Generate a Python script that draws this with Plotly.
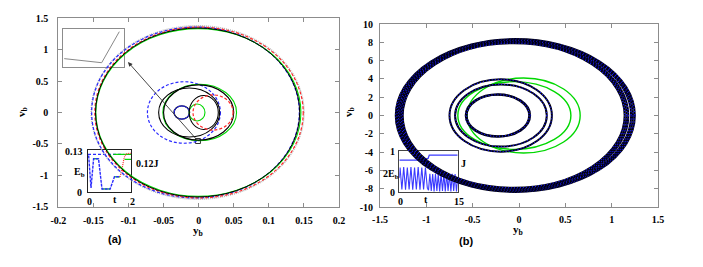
import plotly.graph_objects as go

W, H = 703, 267

# ---------------- DATA ----------------
# tick values / labels
a_xticks = [-0.2, -0.15, -0.1, -0.05, 0, 0.05, 0.1, 0.15, 0.2]
a_xlabels = ['-0.2', '-0.15', '-0.1', '-0.05', '0', '0.05', '0.1', '0.15', '0.2']
a_yticks = [-1.5, -1, -0.5, 0, 0.5, 1, 1.5]
a_ylabels = ['-1.5', '-1', '-0.5', '0', '0.5', '1', '1.5']
b_xticks = [-1.5, -1, -0.5, 0, 0.5, 1, 1.5]
b_xlabels = ['-1.5', '-1', '-0.5', '0', '0.5', '1', '1.5']
b_yticks = [-10, -8, -6, -4, -2, 0, 2, 4, 6, 8, 10]
b_ylabels = ['-10', '-8', '-6', '-4', '-2', '0', '2', '4', '6', '8', '10']

# Panel (a): large orbits  (left edge, right edge, half height in v_b)
a_big_left = [-0.153, -0.1525, -0.148, -0.1465, -0.147]
a_big_right = [0.150, 0.1435, 0.149, 0.1457, 0.144]
a_big_half = [1.38, 1.36, 1.36, 1.335, 1.345]
# Panel (a): inner orbits
a_in_left = [-0.073, -0.051, -0.057, -0.050, -0.035, -0.035, -0.0135, -0.0135, -0.008]
a_in_right = [0.031, 0.054, 0.030, 0.050, -0.013, -0.013, 0.009, 0.028, 0.049]
a_in_half = [0.49, 0.45, 0.39, 0.44, 0.105, 0.105, 0.135, 0.27, 0.28]
# marked point and arrow target (a)
a_mark_y = [-0.001]
a_mark_v = [-0.454]
a_arrow_head = [-0.1007, 0.804]
# zoom inset (a) polyline (normalised box coordinates)
zoom_x = [0.02, 0.634, 0.923]
zoom_y = [0.22, 0.113, 0.93]
# energy inset (a): t and E_b
ea_top_t = [0.0, 1.65]
ea_top_e = [0.1165, 0.1165]
ea_blue_t = [0.03, 0.14, 0.26, 0.49, 0.65, 1.03, 1.23, 1.49]
ea_blue_e = [0.113, 0.0125, 0.103, 0.103, 0.0094, 0.0094, 0.047, 0.047]
ea_green_t = [[0.26, 0.49], [0.65, 1.03], [1.23, 1.49], [1.18, 2.0], [1.7, 2.0]]
ea_green_e = [[0.103, 0.103], [0.0094, 0.0094], [0.047, 0.047], [0.1165, 0.1165], [0.101, 0.101]]
ea_red_t = [1.49, 1.58, 1.68, 1.77, 2.0]
ea_red_e = [0.047, 0.07, 0.106, 0.118, 0.12]

# Panel (b): outer band of orbits
b_big_left = [-1.33, -1.315, -1.30, -1.285, -1.27, -1.255]
b_big_right = [1.25, 1.23, 1.21, 1.18, 1.16, 1.14]
b_big_half = [8.35, 8.28, 8.2, 8.1, 8.0, 7.9]
# Panel (b): inner dark orbits
b_in_left = [-0.575, -0.565, -0.69, -0.75]
b_in_right = [0.12, 0.11, 0.30, 0.355]
b_in_half = [2.33, 2.27, 3.4, 3.95]
# Panel (b): green orbits
b_gr_left = [-0.66, -0.56]
b_gr_right = [0.56, 0.66]
b_gr_half = [3.7, 4.1]
# energy inset (b)
j_t = [0.0, 5.7, 7.4, 7.7, 15.0]
j_v = [0.78, 0.78, 0.82, 0.9, 0.9]
e_t = [0.0, 0.2, 0.66, 1.13, 1.6, 2.06, 2.52, 2.99, 3.45, 3.92, 4.38, 4.85, 5.31, 5.78,
       6.24, 6.71, 7.2, 7.5, 7.85, 8.21, 8.57, 8.93, 9.29, 9.65, 10.01, 10.37, 10.73,
       11.09, 11.45, 11.81, 12.17, 12.53, 12.89, 13.25, 13.61, 13.97, 14.33, 14.69, 15.0]
e_v = [0.35, 0.6, 0.07, 0.61, 0.06, 0.6, 0.07, 0.61, 0.06, 0.6, 0.07, 0.61, 0.06, 0.6,
       0.07, 0.6, 0.1, 0.05, 0.45, 0.03, 0.44, 0.02, 0.45, 0.03, 0.44, 0.02, 0.45,
       0.03, 0.44, 0.02, 0.45, 0.03, 0.44, 0.02, 0.45, 0.03, 0.44, 0.02, 0.3]

# ---------------- STYLES ----------------
BLUE = '#2a2aff'
GREEN = '#00d800'
RED = '#ff2a2a'
GRAY = '#8c8c8c'
DASH = '3px,2px'
a_big_style = [('#b4b4b4', '1px,1px', 1.6), (BLUE, DASH, 1.3), (RED, DASH, 1.2),
               (GREEN, 'solid', 1.1), ('#000000', 'solid', 1.0)]
a_in_style = [(BLUE, DASH, 1.2), (GREEN, 'solid', 1.1), ('#000000', 'solid', 1.1),
              ('#000000', 'solid', 1.1), ('#000000', 'solid', 1.4), (BLUE, 'solid', 1.0),
              (GREEN, 'solid', 1.1), ('#000000', 'solid', 1.1), (RED, DASH, 1.2)]


def px_x(p):
    return p / W


def px_y(p):
    return 1 - p / H


fig = go.Figure()
shapes = []


def ellipse(xr, yr, x0, x1, h, color, dash, width):
    shapes.append(dict(type='circle', xref=xr, yref=yr, x0=x0, x1=x1, y0=-h, y1=h,
                       line=dict(color=color, dash=dash, width=width), layer='above'))


for i in range(len(a_big_left)):
    c, d, w = a_big_style[i]
    ellipse('x', 'y', a_big_left[i], a_big_right[i], a_big_half[i], c, d, w)
for i in range(len(a_in_left)):
    c, d, w = a_in_style[i]
    ellipse('x', 'y', a_in_left[i], a_in_right[i], a_in_half[i], c, d, w)

for i in range(len(b_big_left)):
    ellipse('x2', 'y2', b_big_left[i], b_big_right[i], b_big_half[i], '#000010', 'solid', 2.0)
    ellipse('x2', 'y2', b_big_left[i], b_big_right[i], b_big_half[i], '#1a1aff', '1px,2px', 1.2)
for i in range(len(b_gr_left)):
    ellipse('x2', 'y2', b_gr_left[i], b_gr_right[i], b_gr_half[i], GREEN, 'solid', 1.4)
for i in range(len(b_in_left)):
    ellipse('x2', 'y2', b_in_left[i], b_in_right[i], b_in_half[i], '#000010', 'solid', 2.0)
    ellipse('x2', 'y2', b_in_left[i], b_in_right[i], b_in_half[i], '#1a1aff', '1px,2px', 1.2)

# marked point (a)
fig.add_trace(go.Scatter(x=a_mark_y, y=a_mark_v, mode='markers', xaxis='x', yaxis='y',
                         marker=dict(symbol='square-open', size=5, color='#333',
                                     line=dict(width=1, color='#333')),
                         showlegend=False, hoverinfo='skip'))

# zoom inset (a)
fig.add_trace(go.Scatter(x=zoom_x, y=zoom_y, mode='lines', xaxis='x3', yaxis='y3',
                         line=dict(color='#888', width=1), showlegend=False))

# energy inset (a)
fig.add_trace(go.Scatter(x=ea_top_t, y=ea_top_e, mode='lines', xaxis='x4', yaxis='y4',
                         line=dict(color=BLUE, width=1.2, dash='3px,2px'), showlegend=False))
for tt, ee in zip(ea_green_t, ea_green_e):
    fig.add_trace(go.Scatter(x=tt, y=ee, mode='lines', xaxis='x4', yaxis='y4',
                             line=dict(color=GREEN, width=1.2), showlegend=False))
fig.add_trace(go.Scatter(x=ea_blue_t, y=ea_blue_e, mode='lines', xaxis='x4', yaxis='y4',
                         line=dict(color=BLUE, width=1.4, dash='3px,1px'), showlegend=False))
fig.add_trace(go.Scatter(x=ea_red_t, y=ea_red_e, mode='lines', xaxis='x4', yaxis='y4',
                         line=dict(color=RED, width=1.2, dash='1px,1px'), showlegend=False))

# energy inset (b)
fig.add_trace(go.Scatter(x=j_t, y=j_v, mode='lines', xaxis='x5', yaxis='y5',
                         line=dict(color='#3a3aff', width=1.3), showlegend=False))
fig.add_trace(go.Scatter(x=e_t, y=e_v, mode='lines', xaxis='x5', yaxis='y5',
                         line=dict(color='#3a3aff', width=1.1), showlegend=False))

TF = dict(family='Liberation Serif', size=10, color='black', weight='bold')


def main_axis(domain, rng, tv, tt, standoff):
    return dict(domain=domain, range=rng, tickmode='array', tickvals=tv, ticktext=tt,
                showgrid=False, zeroline=False, automargin=False,
                showline=True, linecolor=GRAY, linewidth=1, mirror='ticks', ticks='inside',
                ticklen=4, tickcolor=GRAY, tickwidth=1, tickfont=TF, tickangle=0,
                ticklabelstandoff=standoff, fixedrange=True)


def inset_axis(domain, rng, anchor, color):
    return dict(domain=domain, range=rng, anchor=anchor, showgrid=False, zeroline=False,
                showline=True, linecolor=color, linewidth=1, mirror=True, ticks='',
                showticklabels=False, automargin=False, fixedrange=True)


ann = []


def label(text, x, y, size=10, angle=0, family='Liberation Serif'):
    ann.append(dict(text=text, x=px_x(x), y=px_y(y), xref='paper', yref='paper',
                    showarrow=False, textangle=angle, xanchor='center', yanchor='middle',
                    font=dict(family=family, size=size, color='black', weight='bold')))


label('v<sub>b</sub>', 22, 112, 11, -90)
label('y<sub>b</sub>', 198, 231, 11)
label('(a)', 115, 239, 11, 0, 'Liberation Sans')
label('v<sub>b</sub>', 349, 112, 11, -90)
label('y<sub>b</sub>', 518, 230, 11)
label('(b)', 466, 241, 11, 0, 'Liberation Sans')
# inset (a) labels
label('0.13', 74, 151.5, 10)
label('E<sub>b</sub>', 79, 172, 10)
label('0', 79, 192, 10)
label('0.12J', 147, 163.5, 10)
label('0', 89.5, 201.5, 10)
label('t', 115, 199.5, 10)
label('2', 132.5, 201.5, 10)
# inset (b) labels
label('1', 392.5, 151.5, 10)
label('2E<sub>b</sub>', 391, 174, 10)
label('0', 392.5, 192, 10)
label('J', 463, 163.5, 10)
label('0', 400, 201, 10)
label('t', 426, 199, 10)
label('15', 458.5, 201, 10)

# arrow (a)
ann.append(dict(x=a_arrow_head[0], y=a_arrow_head[1], ax=a_mark_y[0], ay=a_mark_v[0],
                xref='x', yref='y', axref='x', ayref='y', text='', showarrow=True,
                arrowhead=2, arrowsize=1, arrowwidth=0.9, arrowcolor='#333'))

fig.update_layout(
    width=W, height=H, autosize=False, margin=dict(l=0, r=0, t=0, b=0),
    paper_bgcolor='white', plot_bgcolor='rgba(0,0,0,0)', showlegend=False,
    xaxis=dict(main_axis([px_x(58.3), px_x(339)], [-0.2, 0.2], a_xticks, a_xlabels, 4),
               anchor='y'),
    yaxis=dict(main_axis([px_y(206.7), px_y(18.3)], [-1.5, 1.5], a_yticks, a_ylabels, 7),
               anchor='x'),
    xaxis2=dict(main_axis([px_x(380), px_x(658)], [-1.5, 1.5], b_xticks, b_xlabels, 3),
                anchor='y2'),
    yaxis2=dict(main_axis([px_y(207), px_y(24)], [-10, 10], b_yticks, b_ylabels, 4),
                anchor='x2'),
    xaxis3=inset_axis([px_x(63), px_x(124)], [0, 1], 'y3', GRAY),
    yaxis3=inset_axis([px_y(67), px_y(29)], [0, 1], 'x3', GRAY),
    xaxis4=inset_axis([px_x(88), px_x(131)], [0, 2], 'y4', '#222'),
    yaxis4=inset_axis([px_y(192), px_y(150)], [0, 0.13], 'x4', '#222'),
    xaxis5=inset_axis([px_x(399.3), px_x(457.7)], [0, 15], 'y5', '#444'),
    yaxis5=inset_axis([px_y(192.3), px_y(151)], [0, 1], 'x5', '#444'),
    shapes=shapes, annotations=ann,
)

fig.write_html('out.html', config={'displayModeBar': False},
               post_script="document.body.style.margin='0';document.body.style.overflow='hidden';")
